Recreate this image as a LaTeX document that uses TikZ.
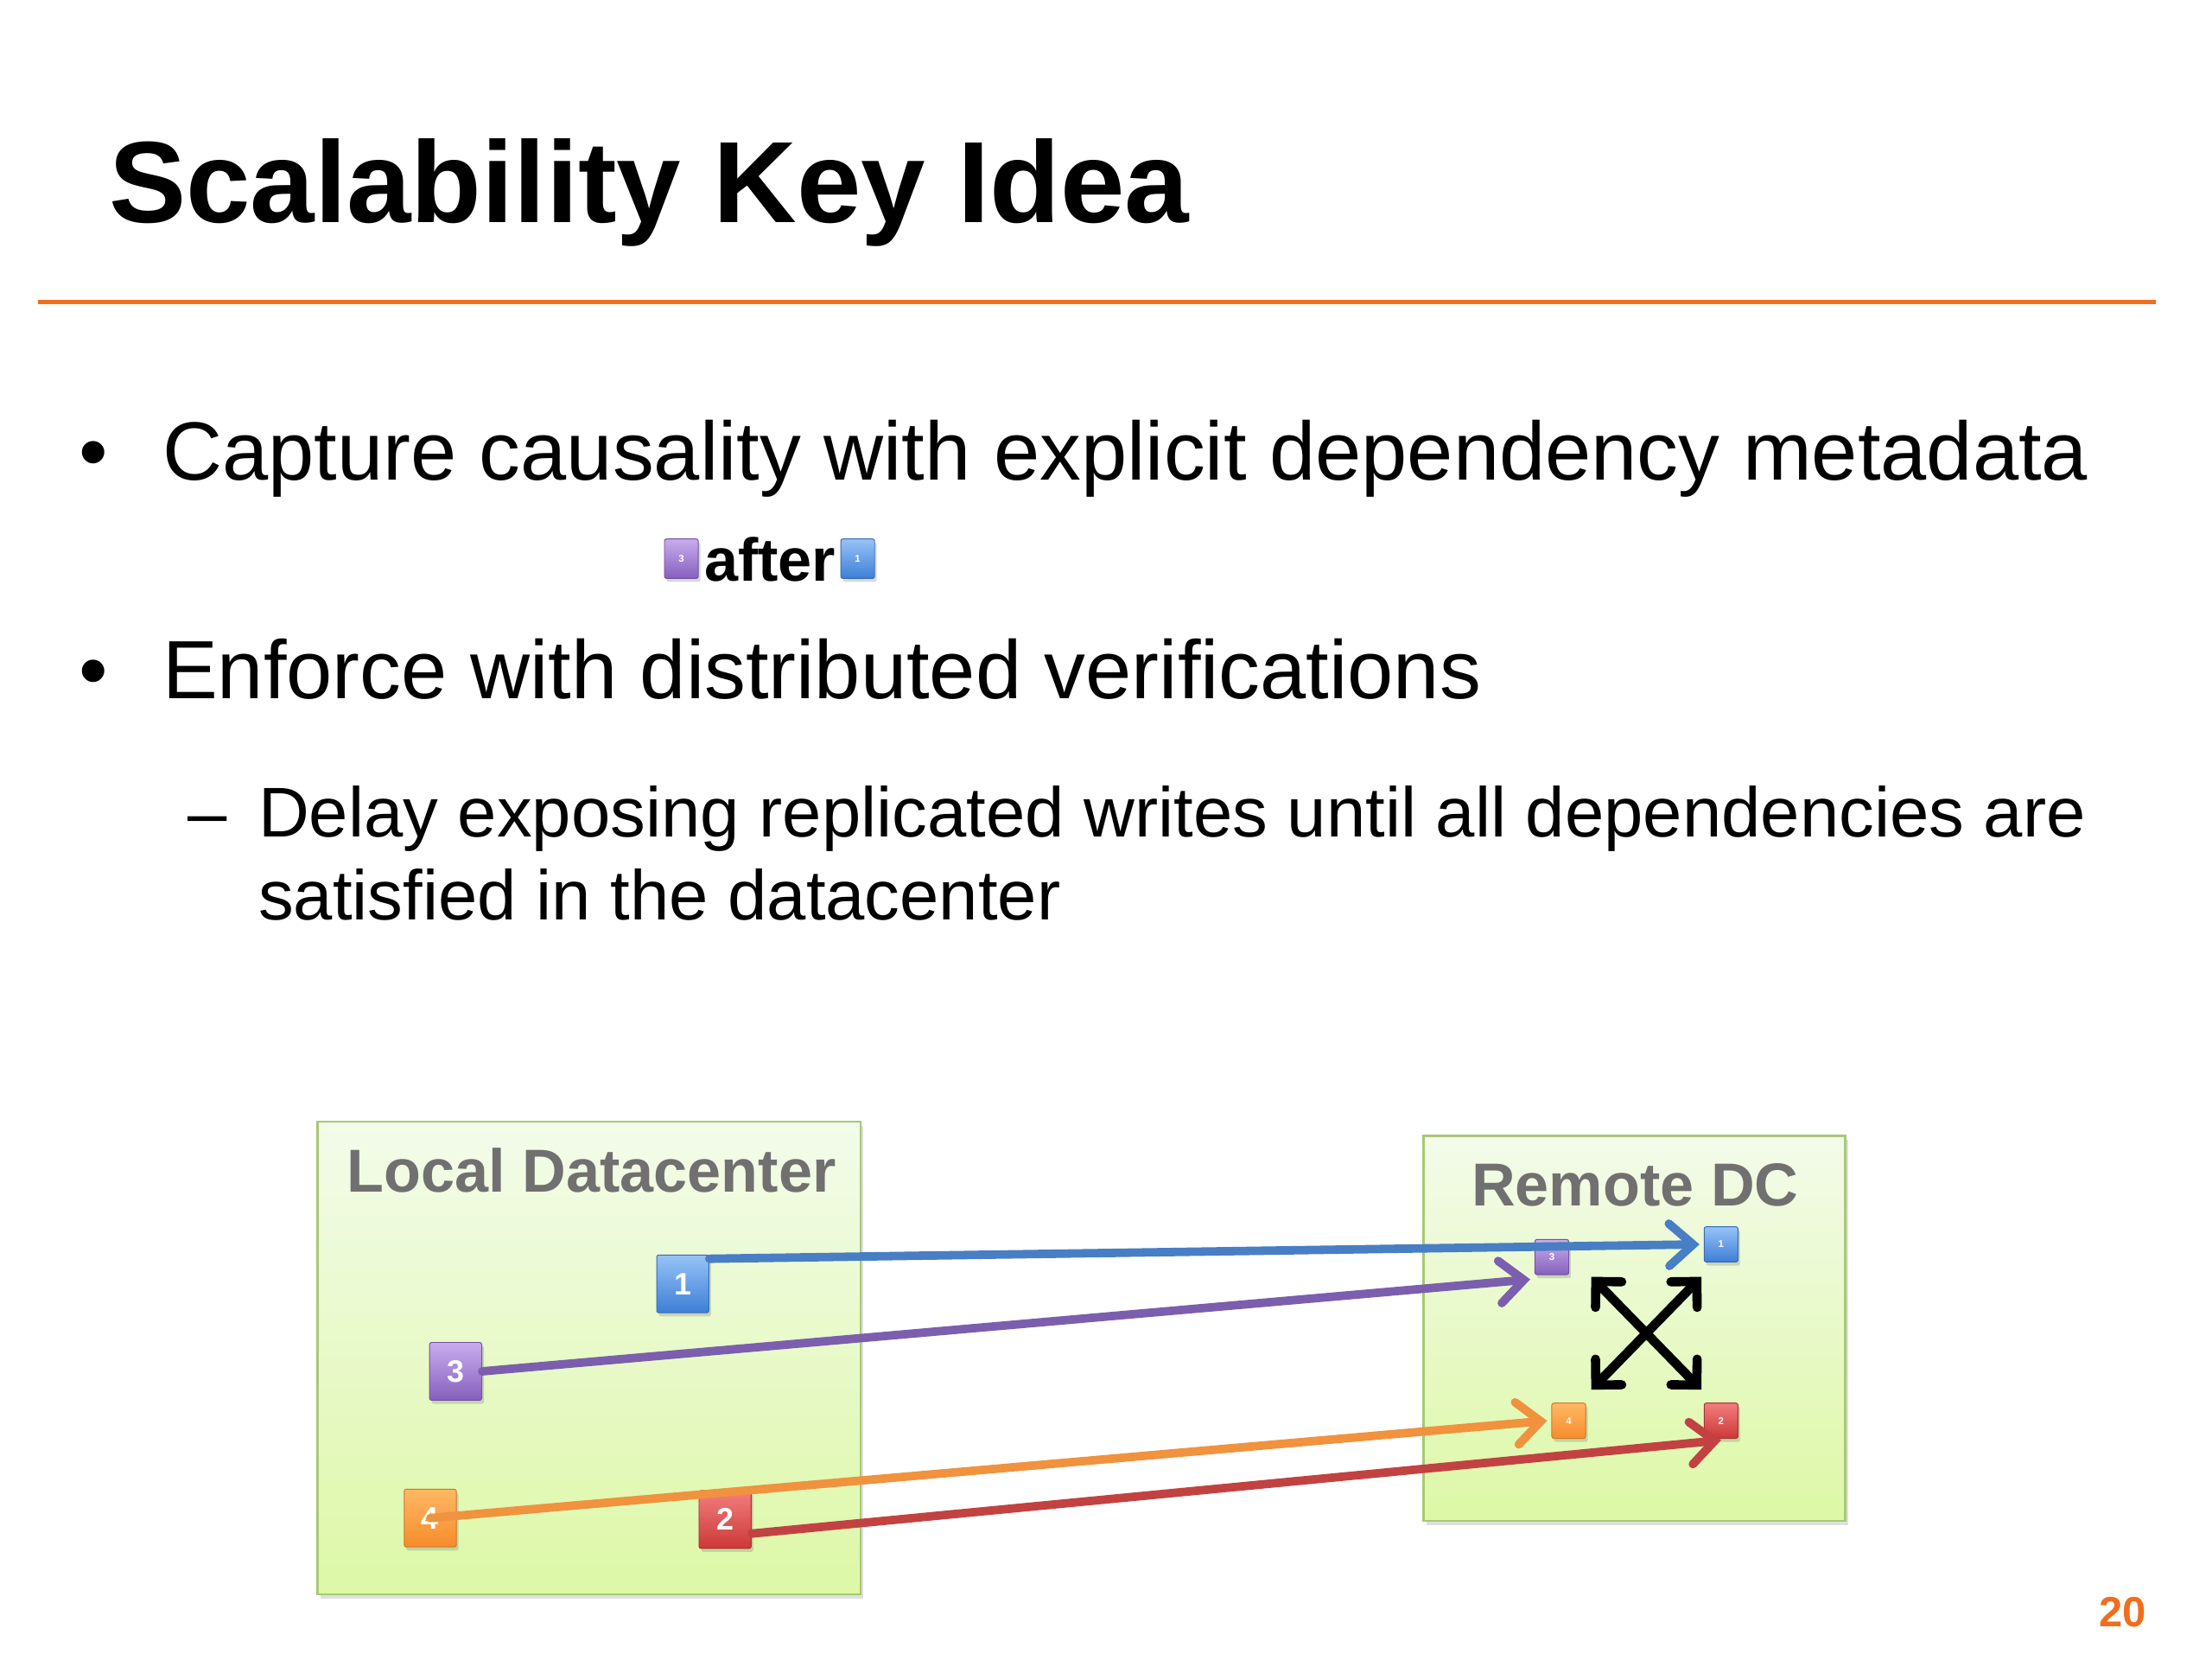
\documentclass[tikz,border=0pt]{standalone}
\usepackage{fontspec}
\setmainfont{Liberation Sans}
\usetikzlibrary{arrows.meta,shadows}

\definecolor{hdorange}{RGB}{240,110,30}
\definecolor{dcline}{RGB}{168,200,118}
\definecolor{dctop}{RGB}{243,251,234}
\definecolor{dcbot}{RGB}{221,248,166}
\definecolor{dctext}{RGB}{112,112,112}
\definecolor{bluetop}{RGB}{150,195,247}
\definecolor{bluebot}{RGB}{62,126,214}
\definecolor{blueln}{RGB}{72,126,196}
\definecolor{purpletop}{RGB}{200,172,238}
\definecolor{purplebot}{RGB}{134,96,188}
\definecolor{purpleln}{RGB}{124,94,174}
\definecolor{orangetop}{RGB}{255,184,100}
\definecolor{orangebot}{RGB}{246,140,44}
\definecolor{orangeln}{RGB}{240,146,62}
\definecolor{redtop}{RGB}{242,126,126}
\definecolor{redbot}{RGB}{204,56,56}
\definecolor{redln}{RGB}{194,66,66}

\begin{document}
\begin{tikzpicture}
[
    x=1pt, y=-1pt,
    txt/.style={anchor=base west, inner sep=0pt},
    dc/.style={draw=dcline, line width=1.5pt, top color=dctop, bottom color=dcbot,
        drop shadow={shadow xshift=2pt, shadow yshift=-3pt, opacity=.25}},
    dctitle/.style={txt, text=dctext, font=\fontsize{43}{43}\selectfont\bfseries},
    wbox/.style={draw=#1bot!85!black, line width=.6pt, top color=#1top, bottom color=#1bot,
        minimum width=37pt, minimum height=41pt, inner sep=0pt, rounded corners=1.5pt,
        text=white, font=\fontsize{22}{22}\selectfont\bfseries,
        drop shadow={shadow xshift=1.5pt, shadow yshift=-2.5pt, opacity=.3}},
    rbox/.style={wbox=#1, minimum width=24pt, minimum height=25pt, font=\fontsize{7}{7}\selectfont\bfseries},
    dep/.style={draw=#1ln, line width=6pt, line cap=round,
        -{Straight Barb[length=17pt, width=30pt, line cap=round]}},
    sync/.style={draw=black, line width=6.5pt, line cap=round,
        {Straight Barb[length=13pt, width=26pt, line cap=round]}-{Straight Barb[length=13pt, width=26pt, line cap=round]}},
]
\useasboundingbox (0,0) rectangle (1568,1176);

% header
\node[txt, font=\fontsize{82}{82}\selectfont\bfseries] (title) at (77,158) {Scalability Key Idea};
\draw[hdorange, line width=3pt] (27,214) -- (1528,214);

% bullets
\node[txt, font=\fontsize{58.6}{58.6}\selectfont] (b1) at (56,340) {\textbullet};
\node[txt, font=\fontsize{58.6}{58.6}\selectfont] (t1) at (115,340) {Capture causality with explicit dependency metadata};
\node[rbox=purple, minimum height=28pt] (a3) at (483,396) {3};
\node[txt, font=\fontsize{43}{43}\selectfont\bfseries] (after) at (499,412) {after};
\node[rbox=blue, minimum height=28pt] (a1) at (608,396) {1};
\node[txt, font=\fontsize{58.6}{58.6}\selectfont] (b2) at (56,495) {\textbullet};
\node[txt, font=\fontsize{58.6}{58.6}\selectfont] (t2) at (115,495) {Enforce with distributed verifications};
\node[txt, font=\fontsize{49.9}{49.9}\selectfont] (d1) at (133,593) {--};
\node[txt, font=\fontsize{49.9}{49.9}\selectfont] (t3) at (183,593) {Delay exposing replicated writes until all dependencies are};
\node[txt, font=\fontsize{49.9}{49.9}\selectfont] (t4) at (183,652) {satisfied in the datacenter};

% datacenters
\draw[dc] (225,795) rectangle (610,1130);
\node[dctitle] (local) at (246,845) {Local Datacenter};
\draw[dc] (1009,805) rectangle (1308,1078);
\node[dctitle] (remote) at (1043,855) {Remote DC};

% writes
\node[wbox=blue] (w1) at (484,910) {1};
\node[wbox=purple] (w3) at (323,972) {3};
\node[wbox=orange] (w4) at (305,1076) {4};
\node[wbox=red] (w2) at (514,1077) {2};
\node[rbox=purple] (r3) at (1100,891) {3};
\node[rbox=blue] (r1) at (1220,882) {1};
\node[rbox=orange] (r4) at (1112,1007) {4};
\node[rbox=red] (r2) at (1220,1007) {2};

% replication
\draw[dep=blue] ([yshift=-3pt]w1.north east) -- ([xshift=-3pt]r1.west);
\draw[dep=purple] (w3.east) -- ([xshift=-3pt,yshift=-3pt]r3.south west);
\draw[dep=orange] (w4.center) -- ([xshift=-3pt]r4.west);
\draw[dep=red] ([yshift=-10pt]w2.east) -- ([yshift=-1pt]r2.south);
\coordinate (x1) at (1128,905);
\coordinate (x2) at (1206,985);
\coordinate (x3) at (1206,905);
\coordinate (x4) at (1128,985);
\draw[sync] (x1) -- (x2);
\draw[sync] (x3) -- (x4);

% page number
\node[txt, text=hdorange, font=\fontsize{30}{30}\selectfont\bfseries] (pg) at (1488,1153) {20};
\end{tikzpicture}
\end{document}
